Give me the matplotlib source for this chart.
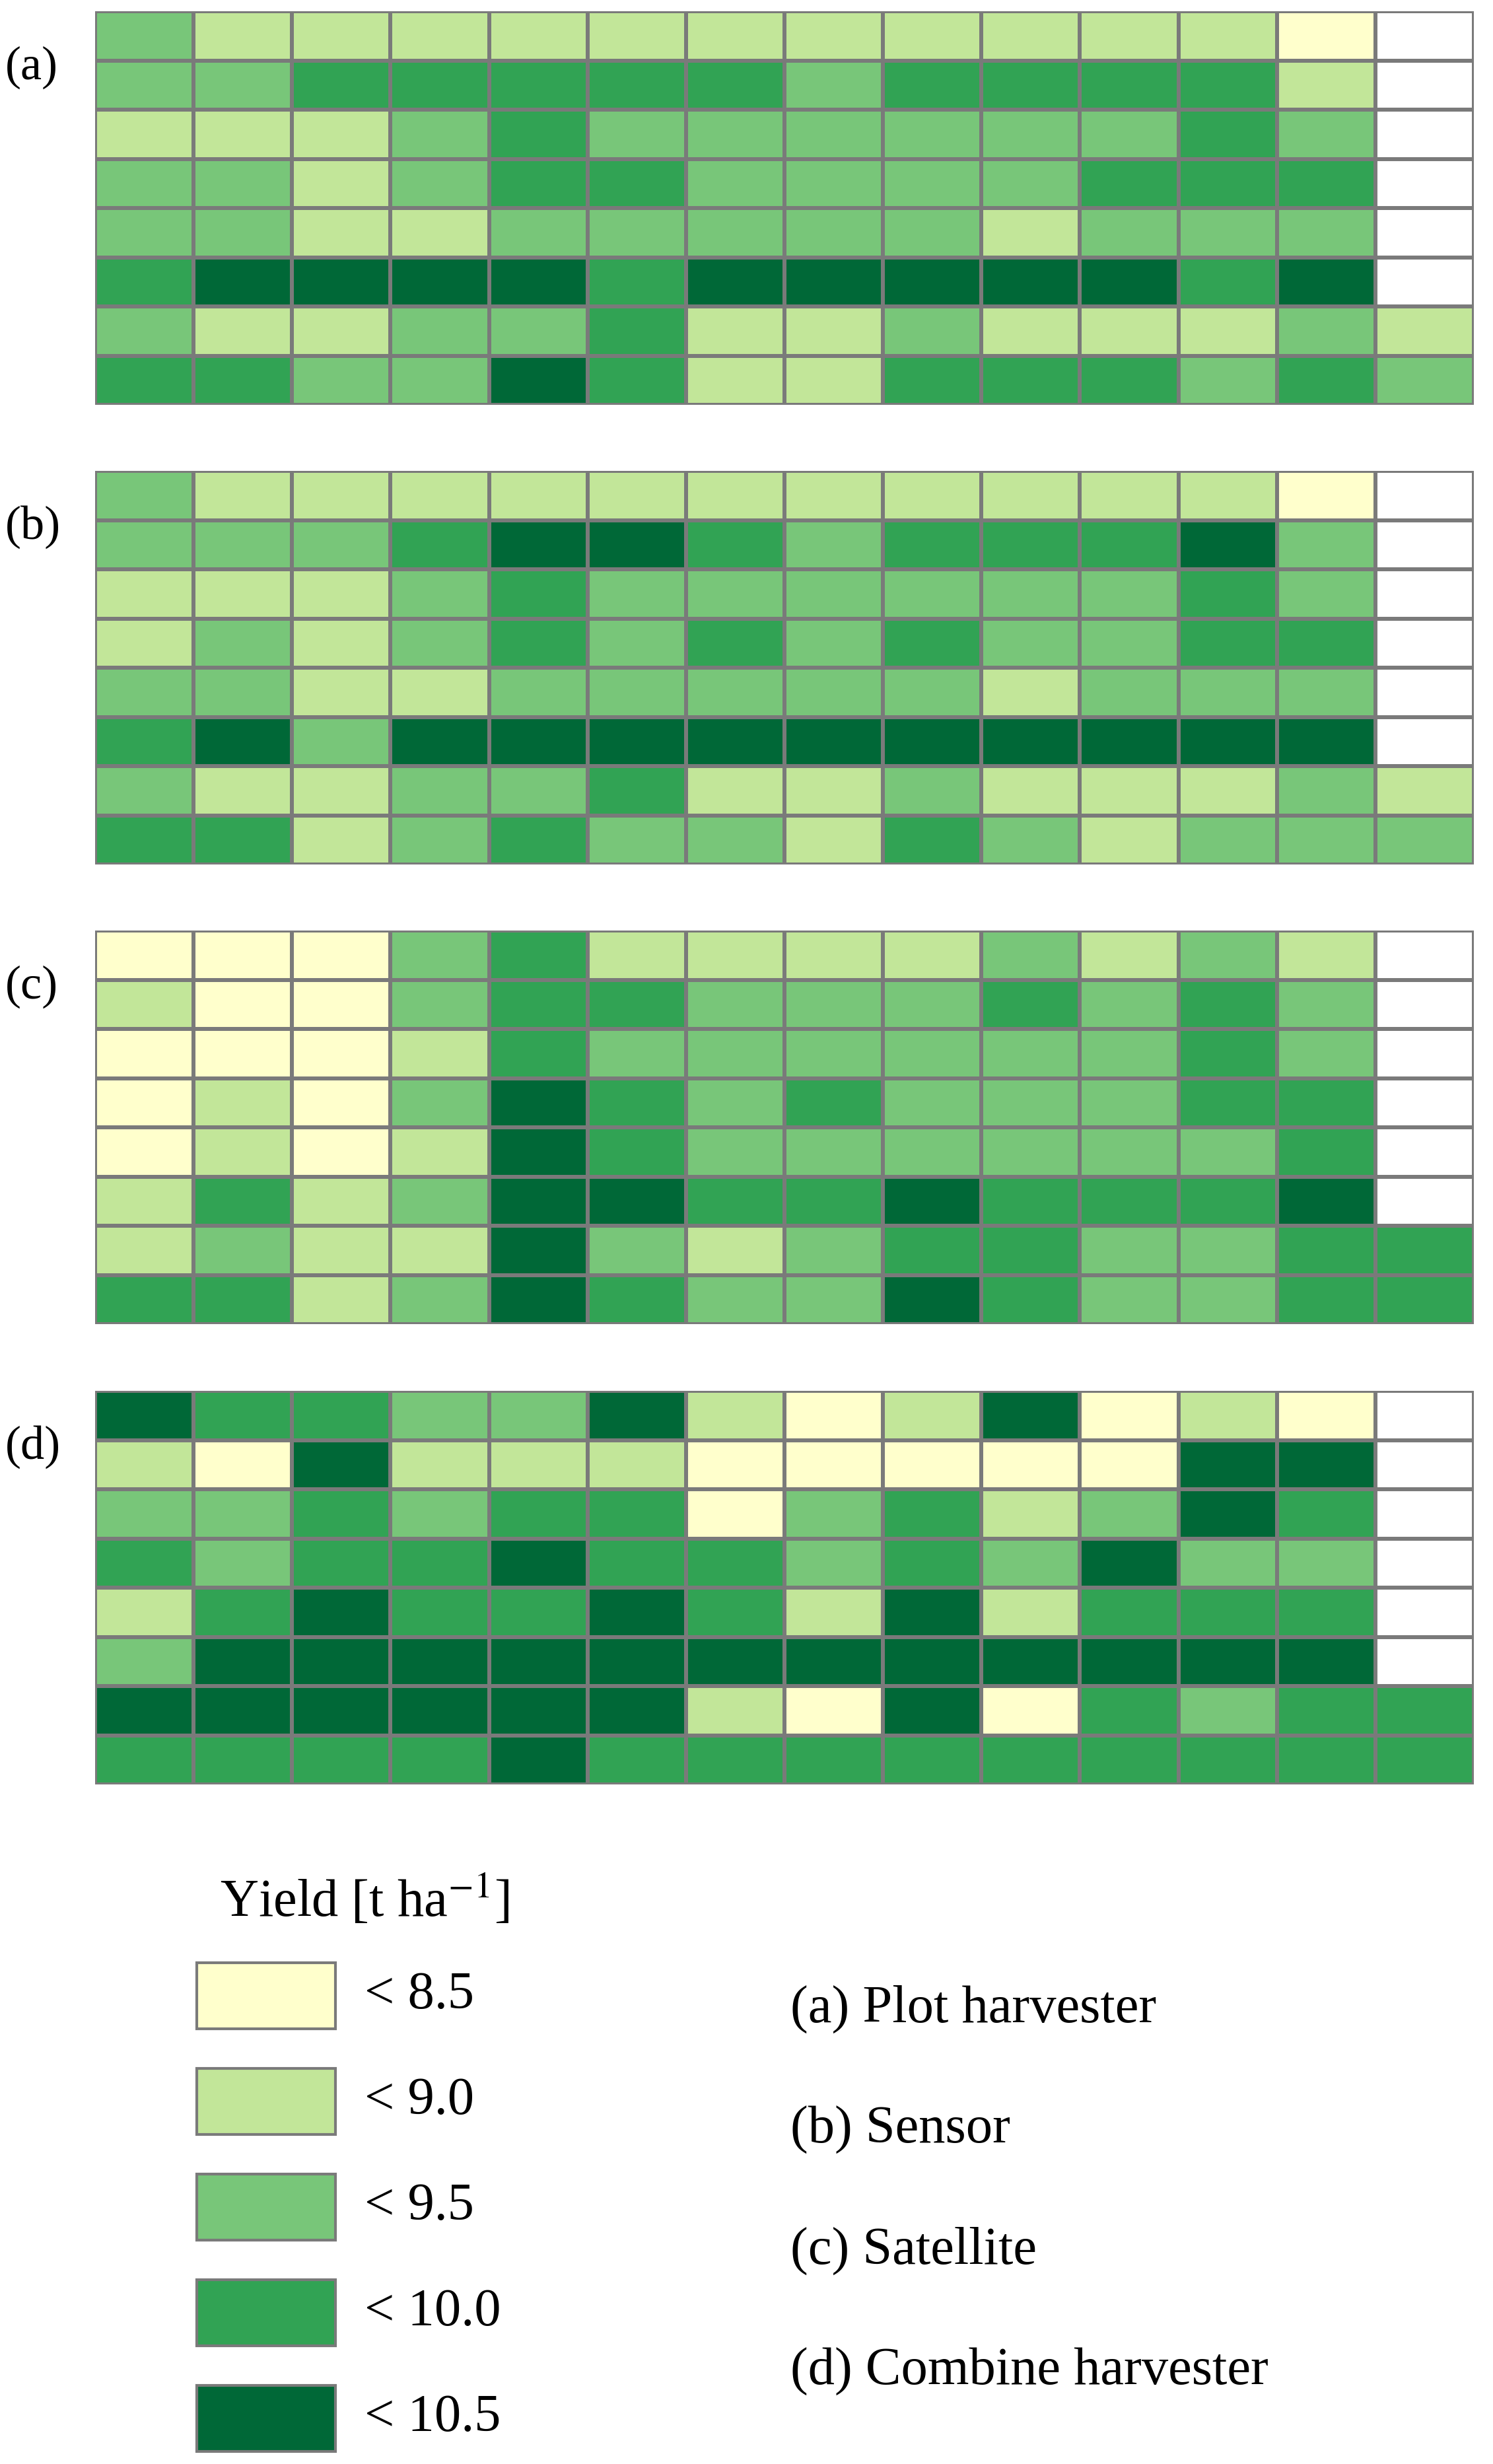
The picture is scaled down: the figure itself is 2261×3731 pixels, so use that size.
import numpy as np
import matplotlib
matplotlib.use("Agg")
import matplotlib.pyplot as plt
from matplotlib.colors import ListedColormap, BoundaryNorm
from matplotlib.patches import Rectangle

plt.rcParams['font.family'] = ['Liberation Serif', 'DejaVu Serif']

class_labels = ["< 8.5", "< 9.0", "< 9.5", "< 10.0", "< 10.5"]
class_colors = ["#FFFFCC", "#C2E699", "#78C679", "#31A354", "#006837"]
panel_labels = ["(a)", "(b)", "(c)", "(d)"]
panel_names = ["(a) Plot harvester", "(b) Sensor", "(c) Satellite", "(d) Combine harvester"]

# class index per cell; -1 = no plot
plot_harvester = [
    [2,1,1,1,1,1,1,1,1,1,1,1,0,-1],
    [2,2,3,3,3,3,3,2,3,3,3,3,1,-1],
    [1,1,1,2,3,2,2,2,2,2,2,3,2,-1],
    [2,2,1,2,3,3,2,2,2,2,3,3,3,-1],
    [2,2,1,1,2,2,2,2,2,1,2,2,2,-1],
    [3,4,4,4,4,3,4,4,4,4,4,3,4,-1],
    [2,1,1,2,2,3,1,1,2,1,1,1,2,1],
    [3,3,2,2,4,3,1,1,3,3,3,2,3,2],
]
sensor = [
    [2,1,1,1,1,1,1,1,1,1,1,1,0,-1],
    [2,2,2,3,4,4,3,2,3,3,3,4,2,-1],
    [1,1,1,2,3,2,2,2,2,2,2,3,2,-1],
    [1,2,1,2,3,2,3,2,3,2,2,3,3,-1],
    [2,2,1,1,2,2,2,2,2,1,2,2,2,-1],
    [3,4,2,4,4,4,4,4,4,4,4,4,4,-1],
    [2,1,1,2,2,3,1,1,2,1,1,1,2,1],
    [3,3,1,2,3,2,2,1,3,2,1,2,2,2],
]
satellite = [
    [0,0,0,2,3,1,1,1,1,2,1,2,1,-1],
    [1,0,0,2,3,3,2,2,2,3,2,3,2,-1],
    [0,0,0,1,3,2,2,2,2,2,2,3,2,-1],
    [0,1,0,2,4,3,2,3,2,2,2,3,3,-1],
    [0,1,0,1,4,3,2,2,2,2,2,2,3,-1],
    [1,3,1,2,4,4,3,3,4,3,3,3,4,-1],
    [1,2,1,1,4,2,1,2,3,3,2,2,3,3],
    [3,3,1,2,4,3,2,2,4,3,2,2,3,3],
]
combine = [
    [4,3,3,2,2,4,1,0,1,4,0,1,0,-1],
    [1,0,4,1,1,1,0,0,0,0,0,4,4,-1],
    [2,2,3,2,3,3,0,2,3,1,2,4,3,-1],
    [3,2,3,3,4,3,3,2,3,2,4,2,2,-1],
    [1,3,4,3,3,4,3,1,4,1,3,3,3,-1],
    [2,4,4,4,4,4,4,4,4,4,4,4,4,-1],
    [4,4,4,4,4,4,1,0,4,0,3,2,3,3],
    [3,3,3,3,4,3,3,3,3,3,3,3,3,3],
]
panels = [plot_harvester, sensor, satellite, combine]

W, H = 2261, 3731
fig = plt.figure(figsize=(W/100, H/100), dpi=100)
cmap = ListedColormap(class_colors)
norm = BoundaryNorm(np.arange(-0.5, 5.5, 1), cmap.N)

tops = [17, 713, 1409, 2106]
gh = 596
gl, gr = 144, 2232
for top, data, lab in zip(tops, panels, panel_labels):
    ax = fig.add_axes([gl/W, 1-(top+gh)/H, (gr-gl)/W, gh/H])
    arr = np.ma.masked_less(np.array(data), 0)
    ax.pcolormesh(arr, cmap=cmap, norm=norm, edgecolors='#7a7a7a', linewidth=3)
    ax.set_xlim(0, 14); ax.set_ylim(8, 0)
    ax.axis('off')
    fig.text(8/W, 1-(top+85)/H, lab, fontsize=52, va='center', ha='left')

# legend
lax = fig.add_axes([0, 0, 1, 1])
lax.set_xlim(0, W); lax.set_ylim(H, 0); lax.axis('off')
lax.text(333, 2878, "Yield [t ha$^{-1}$]", fontsize=58, va='center', ha='left',
         math_fontfamily='stix')
for i, (c, l) in enumerate(zip(class_colors, class_labels)):
    y = 2972 + i*160
    lax.add_patch(Rectangle((298, y), 210, 100, facecolor=c, edgecolor='#7a7a7a', lw=3))
    lax.text(552, y+50, l, fontsize=58, va='center', ha='left')
for i, n in enumerate(panel_names):
    lax.text(1197, 3042 + i*183, n, fontsize=58, va='center', ha='left')

fig.savefig("out.png", dpi=100, facecolor='white')
